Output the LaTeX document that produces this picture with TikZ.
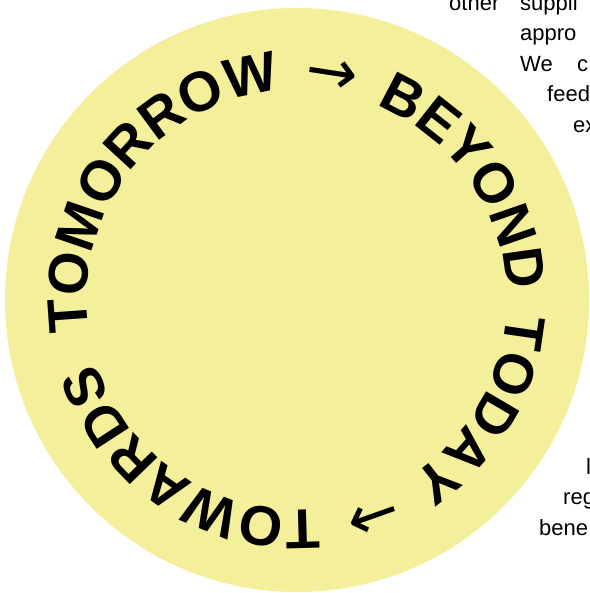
\documentclass[tikz,border=0pt]{standalone}
\usepackage{fontspec}
\setmainfont{Liberation Sans}
\newfontfamily\arrowfam{DejaVu Sans}
\usetikzlibrary{decorations.text}
\definecolor{ringyellow}{RGB}{244,239,154}
\newcommand\ringfont{\fontsize{56}{60}\selectfont\bfseries}
\newcommand\arrowfont{\arrowfam\fontsize{62}{60}\selectfont}
\newcommand\bodyfont{\fontsize{22}{26}\selectfont}

\begin{document}
\begin{tikzpicture}[x=1pt,y=1pt,
  frag/.style={anchor=base west,inner sep=0pt,font=\bodyfont}]
\useasboundingbox (0,0) rectangle (589,593);
\clip (0,0) rectangle (589,593);

\node[circle,fill=ringyellow,minimum size=584pt,inner sep=0pt] (ring) at (297,293) {};

% words running round the ring, clockwise
\path[decorate,decoration={text along path,text align=fit to path stretching spaces,
    text={|\ringfont|TOMORROW |\arrowfont|→|\ringfont| BEYOND TODAY |\arrowfont|→|\ringfont| TOWARDS}}]
  ([shift={(188.7:210)}]ring.center) arc[start angle=188.7,end angle=-162.7,radius=210];

% bits of the paragraph at the right edge
\node[frag] (other)  at (449,582.5) {other};
\node[frag] (suppli) at (520,582.5) {suppli};
\node[frag] (appro)  at (520,552)   {appro};
\node[frag] (we)     at (520,521.5) {We};
\node[frag] (co)     at (577,521.5) {c};
\node[frag] (feed)   at (547,491)   {feed};
\node[frag] (ex)     at (573,460.5) {ex};
\node[frag] (el)     at (586,118.5) {l};
\node[frag] (reg)    at (563,88)    {reg};
\node[frag] (bene)   at (539,57.5)  {bene};
\end{tikzpicture}
\end{document}
